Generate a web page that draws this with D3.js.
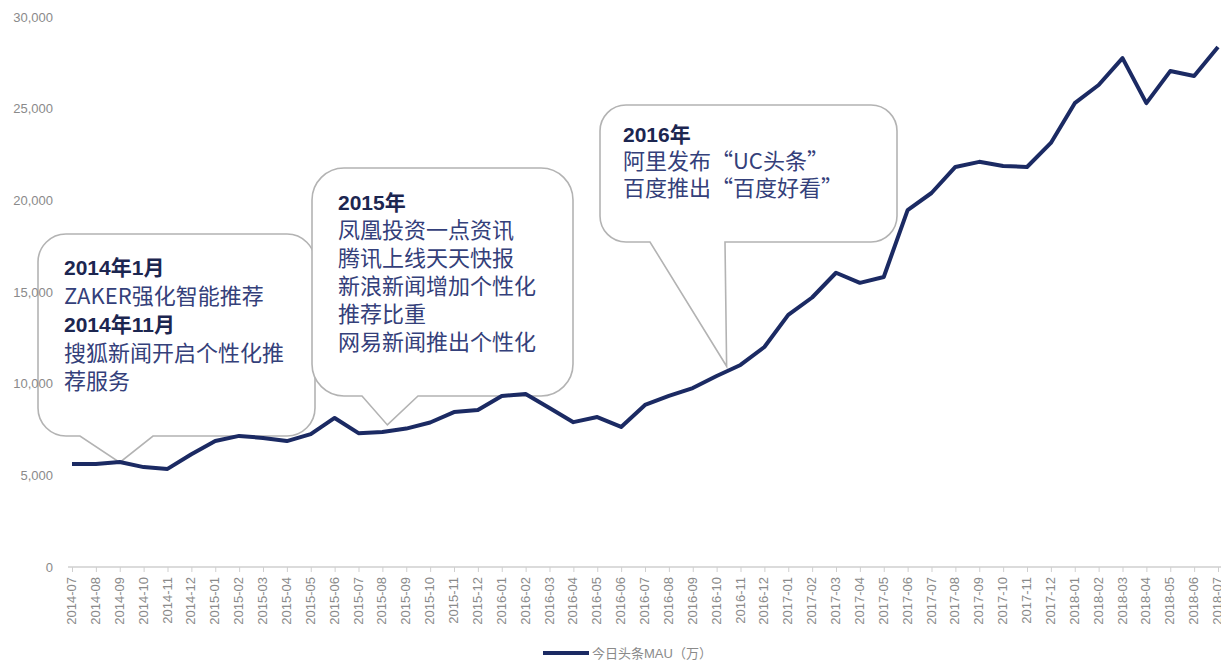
<!DOCTYPE html>
<html>
<head>
<meta charset="utf-8">
<script src="https://cdn.jsdelivr.net/npm/d3@7"></script>
<style>
  body { margin: 0; background: #fff; }
  svg { display: block; }
</style>
</head>
<body>
<svg id="chart" width="1221" height="662"></svg>
<script>
// months on the x axis
var months = [
  "2014-07","2014-08","2014-09","2014-10","2014-11","2014-12",
  "2015-01","2015-02","2015-03","2015-04","2015-05","2015-06",
  "2015-07","2015-08","2015-09","2015-10","2015-11","2015-12",
  "2016-01","2016-02","2016-03","2016-04","2016-05","2016-06",
  "2016-07","2016-08","2016-09","2016-10","2016-11","2016-12",
  "2017-01","2017-02","2017-03","2017-04","2017-05","2017-06",
  "2017-07","2017-08","2017-09","2017-10","2017-11","2017-12",
  "2018-01","2018-02","2018-03","2018-04","2018-05","2018-06",
  "2018-07"
];

// 今日头条MAU (万)
var mau = [
  5620, 5620, 5730, 5450, 5350, 6150,
  6870, 7150, 7040, 6870, 7250, 8130,
  7300, 7360, 7550, 7880, 8450, 8560,
  9330, 9440, 8670, 7900, 8180, 7640,
  8840, 9330, 9760, 10420, 11020, 12000,
  13750, 14700, 16050, 15500, 15820, 19470,
  20400, 21820, 22100, 21870, 21820, 23130,
  25300, 26290, 27760, 25300, 27050, 26780,
  28360
];

var yTicks = [0, 5000, 10000, 15000, 20000, 25000, 30000];
var seriesName = "今日头条MAU（万）";

// callout texts
var note1Lines = ["2014年1月", "ZAKER强化智能推荐", "2014年11月", "搜狐新闻开启个性化推", "荐服务"];
var note1Bold = [true, false, true, false, false];
var note2Lines = ["2015年", "凤凰投资一点资讯", "腾讯上线天天快报", "新浪新闻增加个性化", "推荐比重", "网易新闻推出个性化"];
var note2Bold = [true, false, false, false, false, false];
var note3Lines = ["2016年", "阿里发布\u201cUC头条\u201d", "百度推出\u201c百度好看\u201d"];
var note3Bold = [true, false, false];

var width = 1221, height = 662;
var lineColor = "#1b2a63";

var svg = d3.select("#chart");

var x = d3.scalePoint().domain(months).range([72, 1218]);
var y = d3.scaleLinear().domain([0, 30000]).range([567, 17]);

// x axis
var xaxis = d3.axisBottom(x).tickSize(5).tickSizeOuter(0);
var gx = svg.append("g").attr("transform", "translate(0," + y(0) + ")").call(xaxis);
gx.select(".domain").attr("stroke", "#cfcfcf").attr("stroke-width", 1.5)
  .attr("d", "M68,0H1221");
gx.selectAll(".tick line").attr("stroke", "#cfcfcf");
gx.selectAll(".tick text")
  .attr("font-family", "Liberation Sans, Arial, sans-serif")
  .attr("font-size", 13)
  .attr("fill", "#8a8a8a")
  .attr("text-anchor", "end")
  .attr("transform", "rotate(-90)")
  .attr("x", -10)
  .attr("y", -1)
  .attr("dy", "0.35em");

// callout bubble: rounded box with pointer on the bottom edge
function calloutPath(b) {
  var x0 = b.box[0], y0 = b.box[1], x1 = b.box[2], y1 = b.box[3], r = b.r;
  var tx = x(b.month) + b.dx, ty = y(b.value);
  return "M" + (x0 + r) + "," + y0 +
    "H" + (x1 - r) +
    "A" + r + "," + r + " 0 0 1 " + x1 + "," + (y0 + r) +
    "V" + (y1 - r) +
    "A" + r + "," + r + " 0 0 1 " + (x1 - r) + "," + y1 +
    "H" + b.base[1] +
    "L" + tx + "," + ty +
    "L" + b.base[0] + "," + y1 +
    "H" + (x0 + r) +
    "A" + r + "," + r + " 0 0 1 " + x0 + "," + (y1 - r) +
    "V" + (y0 + r) +
    "A" + r + "," + r + " 0 0 1 " + (x0 + r) + "," + y0 + "Z";
}

var notes = [
  { box: [38, 234, 315, 436], r: 28, base: [80, 153], month: "2014-09", dx: 0, value: 5700,
    lines: note1Lines, bold: note1Bold, tx: 64, ty: 275, lh: 28.5 },
  { box: [312, 168, 573, 396], r: 32, base: [362, 418], month: "2015-08", dx: 5, value: 7750,
    lines: note2Lines, bold: note2Bold, tx: 338, ty: 210, lh: 28 },
  { box: [600, 105, 897, 242], r: 26, base: [650, 725], month: "2016-10", dx: 10, value: 10950,
    lines: note3Lines, bold: note3Bold, tx: 623, ty: 142, lh: 27 }
];

notes.forEach(function (n) {
  var g = svg.append("g");
  g.append("path")
    .attr("d", calloutPath(n))
    .attr("fill", "#fff")
    .attr("stroke", "#b3b3b3")
    .attr("stroke-width", 1.6);
  g.selectAll("text").data(n.lines).enter().append("text")
    .attr("x", n.tx)
    .attr("y", function (d, i) { return n.ty + i * n.lh; })
    .attr("font-family", function (d, i) {
      return n.bold[i] ? "Liberation Sans, Noto Sans CJK SC, sans-serif" : "Noto Sans CJK SC, sans-serif";
    })
    .attr("font-weight", function (d, i) { return n.bold[i] ? "bold" : "normal"; })
    .attr("font-size", function (d, i) { return n.bold[i] ? 21 : 22; })
    .attr("fill", function (d, i) { return n.bold[i] ? "#1c2650" : "#34407a"; })
    .text(function (d) { return d; });
});

// y axis labels only (no line, no grid), drawn over the bubbles
svg.append("g").selectAll("text").data(yTicks).enter().append("text")
  .attr("x", 53)
  .attr("y", function (d) { return y(d); })
  .attr("dy", "0.35em")
  .attr("text-anchor", "end")
  .attr("font-family", "Liberation Sans, Arial, sans-serif")
  .attr("font-size", 13)
  .attr("fill", "#8a8a8a")
  .text(function (d) { return d3.format(",")(d); });

// the series line
var line = d3.line()
  .x(function (d, i) { return x(months[i]); })
  .y(function (d) { return y(d); });

svg.append("path")
  .datum(mau)
  .attr("d", line)
  .attr("fill", "none")
  .attr("stroke", lineColor)
  .attr("stroke-width", 4)
  .attr("stroke-linejoin", "round");

// legend
var lg = svg.append("g").attr("transform", "translate(543,653)");
lg.append("line").attr("x1", 0).attr("x2", 46).attr("y1", 0).attr("y2", 0)
  .attr("stroke", lineColor).attr("stroke-width", 4);
lg.append("text").attr("x", 49).attr("y", 0).attr("dy", "0.35em")
  .attr("font-family", "Liberation Sans, Noto Sans CJK SC, sans-serif")
  .attr("font-size", 13)
  .attr("fill", "#8a8a8a")
  .text(seriesName);
</script>
</body>
</html>
